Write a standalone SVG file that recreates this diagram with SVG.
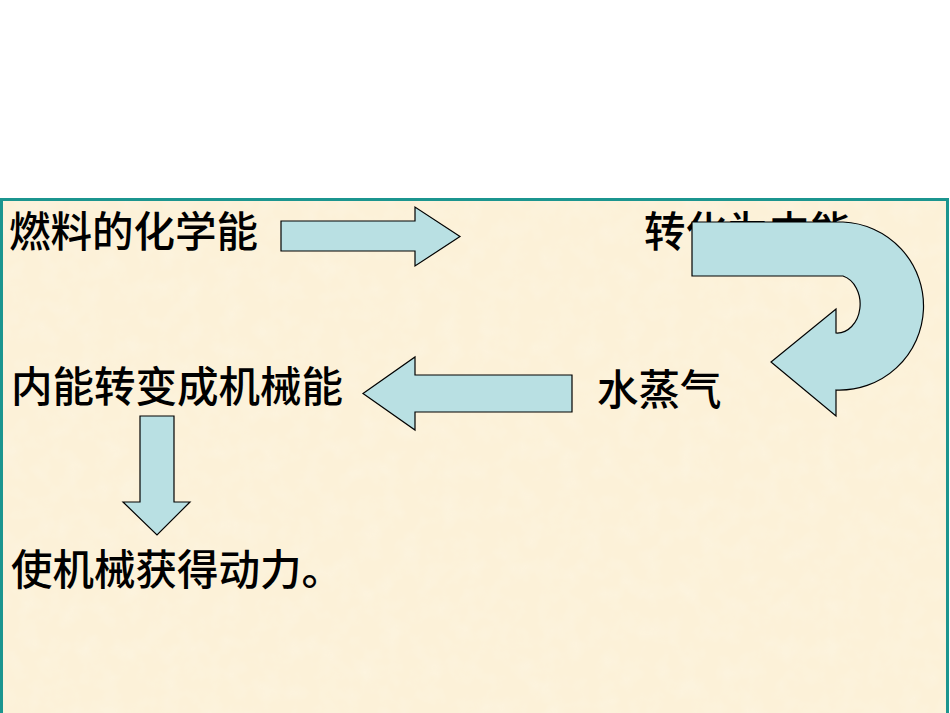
<svg xmlns="http://www.w3.org/2000/svg" width="950" height="713" viewBox="0 0 950 713">
<style>
.t{font-family:"Noto Sans CJK SC","Liberation Sans",sans-serif;font-size:41.5px;font-weight:500;fill:#000}
.a{fill:#B9E0E3;stroke:#000;stroke-width:1.2;stroke-linejoin:miter}
</style>
<defs>
<filter id="tex" x="0" y="0" width="1" height="1">
<feTurbulence type="fractalNoise" baseFrequency="0.05" numOctaves="3" seed="4" result="n"/>
<feColorMatrix in="n" type="matrix" values="0 0 0 0 0.98  0 0 0 0 0.92  0 0 0 0 0.78  0 0 0 -0.9 0.55" result="c"/>
<feComposite in="c" in2="SourceGraphic" operator="in"/>
</filter>
</defs>
<rect x="0" y="0" width="950" height="713" fill="#fff"/>
<rect x="1.5" y="199.5" width="946" height="520" fill="#FCF1D8" stroke="#1B958F" stroke-width="3"/>
<rect x="3" y="201" width="943" height="512" fill="#FCF1D8" filter="url(#tex)"/>
<g id="n1"><text class="t" x="9" y="247">燃料的化学能</text></g>
<g id="n2"><text class="t" x="644" y="247">转化为内能</text></g>
<g id="n3"><text class="t" x="597" y="405">水蒸气</text></g>
<g id="n4"><text class="t" x="11" y="402">内能转变成机械能</text></g>
<g id="n5"><text class="t" x="11" y="585">使机械获得动力。</text></g>
<g id="connectors">
<path class="a" d="M281 221 L415 221 L415 207 L460 236.5 L415 266 L415 251 L281 251 Z"/>
<path class="a" d="M692 222 L843 222 A84 84 0 0 1 836 390 L836 416 L771 362 L836 309 L836 333 A23 29 0 0 0 843 276 L692 276 Z"/>
<path class="a" d="M572 375 L415 375 L415 357 L363 393.5 L415 430 L415 412 L572 412 Z"/>
<path class="a" d="M140 416 L174 416 L174 502 L190 502 L157 535 L123 502 L140 502 Z"/>
</g>
</svg>
